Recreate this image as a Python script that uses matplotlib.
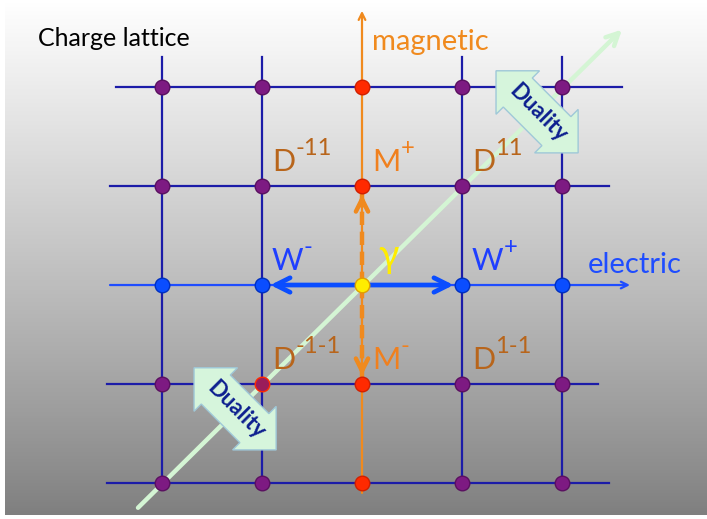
import numpy as np
import matplotlib.pyplot as plt
from matplotlib.colors import LinearSegmentedColormap

plt.rcParams['font.family'] = ['Lato', 'DejaVu Sans']

# lattice of charges (electric, magnetic)
cols = [-2, -1, 0, 1, 2]
rows = [-2, -1, 0, 1, 2]

# named states: letter, superscript and their charges
names = ["D", "M", "D", "W", "W", "D", "M", "D"]
supers = ["-11", "+", "11", "-", "+", "-1-1", "-", "1-1"]
charges = [(-1, 1), (0, 1), (1, 1), (-1, 0), (1, 0),
           (-1, -1), (0, -1), (1, -1)]

# duality arrows sit on the diagonal, this is where their centre is
duality_pos = [(1.76, 1.74), (-1.26, -1.26)]

C_GRID = "#1c1ca8"
C_ELEC = "#1f4dff"
C_MAG = "#f08a1e"
C_PURPLE = "#7d1a82"
C_RED = "#ff2a00"
C_BLUE = "#0a4dff"
C_YELLOW = "#ffec00"
C_DIAG = "#d4f5d4"
name_color = {"D": "#b8651b", "M": "#f0801e", "W": "#1f3fff"}

fig = plt.figure(figsize=(7.07, 5.19), dpi=100)
ax = fig.add_axes([5 / 707, 4 / 519, 702 / 707, 515 / 519])
xlim = (-3.57, 3.45)
ylim = (-2.323, 2.879)

# grey gradient background
cmap = LinearSegmentedColormap.from_list("bg", ["#7f7f7f", "#ffffff"])
grad = np.linspace(0, 1, 256).reshape(-1, 1) ** 0.9
ax.imshow(grad, extent=(*xlim, *ylim), origin="lower", aspect="auto",
          cmap=cmap, vmin=0, vmax=1, zorder=0)

# horizontal lattice lines (the electric one is drawn as an axis)
h_ends = {2: (-2.46, 2.6), 1: (-2.52, 2.47), -1: (-2.55, 2.36),
          -2: (-2.55, 2.47)}
for r in rows:
    if r == 0:
        continue
    x0, x1 = h_ends[r]
    ax.plot([x0, x1], [r, r], color=C_GRID, lw=1.6, zorder=2)
for c in cols:
    if c == 0:
        continue
    ax.plot([c, c], [rows[0], 2.3], color=C_GRID, lw=1.6, zorder=2)

# electric and magnetic axes
ax.annotate("", xy=(2.68, 0), xytext=(-2.52, 0),
            arrowprops=dict(arrowstyle="->", color=C_ELEC, lw=1.6,
                            mutation_scale=12, shrinkA=0, shrinkB=0),
            zorder=2)
ax.annotate("", xy=(0, 2.77), xytext=(0, -2.1),
            arrowprops=dict(arrowstyle="->", color=C_MAG, lw=1.6,
                            mutation_scale=12, shrinkA=0, shrinkB=0),
            zorder=2)

# diagonal (duality direction)
ax.annotate("", xy=(2.6, 2.58), xytext=(-2.24, -2.25),
            arrowprops=dict(arrowstyle="->", color=C_DIAG, lw=3.2,
                            mutation_scale=22, shrinkA=0, shrinkB=0),
            zorder=3)

# W arrows from photon
for c in (-1, 1):
    ax.annotate("", xy=(c, 0), xytext=(0, 0),
                arrowprops=dict(arrowstyle="->", color=C_BLUE, lw=3.4,
                                mutation_scale=26, shrinkA=0, shrinkB=6),
                zorder=4)

# M arrows from photon (dashed shaft, solid head)
for r in (-1, 1):
    ax.plot([0, 0], [0, r * 0.93], color=C_MAG, lw=3.2, ls=(0, (3, 1.5)),
            zorder=4)
    ax.annotate("", xy=(0, r), xytext=(0, r * 0.8),
                arrowprops=dict(arrowstyle="->", color=C_MAG, lw=3.2,
                                mutation_scale=22, shrinkA=0, shrinkB=6),
                zorder=4)

# lattice nodes
for c in cols:
    for r in rows:
        face, edge = C_PURPLE, "#5a1060"
        if c == 0:
            face, edge = C_RED, "#d02000"
        if r == 0:
            face, edge = C_BLUE, "#0030c0"
        if c == 0 and r == 0:
            face, edge = C_YELLOW, "#e0a000"
        if (c, r) == (-1, -1):
            face, edge = "#9a1c5a", C_RED
        ax.plot(c, r, "o", ms=10.5, mfc=face, mec=edge, mew=1, zorder=5)

# state labels, superscript attached to the letter
for nm, sup, (c, r) in zip(names, supers, charges):
    base = ax.text(c + 0.1, r + 0.15, nm, color=name_color[nm],
                   fontsize=22, va="baseline", ha="left", zorder=6)
    ax.annotate(sup, xy=(1.0, 0.62), xycoords=base, color=name_color[nm],
                fontsize=17, va="bottom", ha="left", zorder=6)

ax.text(0.16, 0.18, "γ", color=C_YELLOW, fontsize=27, ha="left",
        va="baseline", zorder=6)

ax.text(0.1, 2.45, "magnetic", color=C_MAG, fontsize=21, va="center",
        ha="left", zorder=6)
ax.text(2.26, 0.2, "electric", color=C_ELEC, fontsize=21, va="center",
        ha="left", zorder=6)
ax.text(-3.24, 2.49, "Charge lattice", color="black", fontsize=18,
        va="center", ha="left", zorder=6)

for x, y in duality_pos:
    ax.text(x, y, "Duality", rotation=-45, rotation_mode="anchor",
            color="#0d1f8f", fontsize=16, fontweight="bold", ha="center",
            va="center", zorder=7,
            bbox=dict(boxstyle="darrow,pad=0.45", fc="#d6f5dc",
                      ec="#9fc8d8", lw=1))

ax.set_xlim(xlim)
ax.set_ylim(ylim)
ax.axis("off")

fig.savefig("out.png", dpi=100)
